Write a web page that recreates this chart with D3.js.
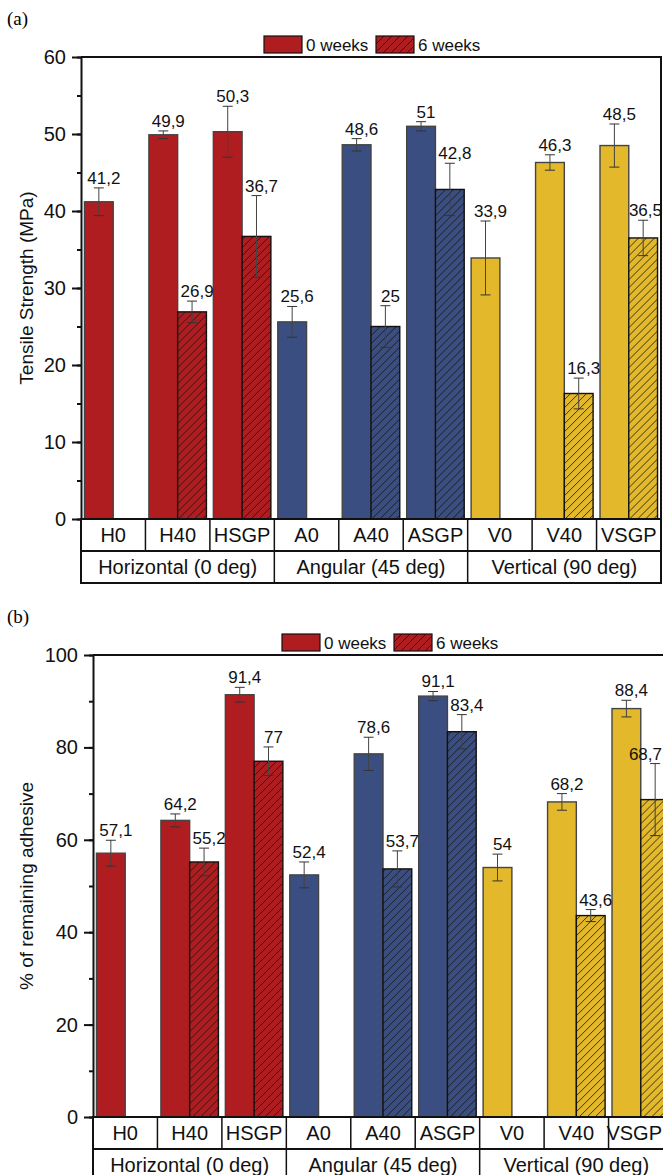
<!DOCTYPE html>
<html>
<head>
<meta charset="utf-8">
<script src="https://cdn.jsdelivr.net/npm/d3@7"></script>
<style>
  body { margin: 0; background: #fff; }
  svg { display: block; font-family: "Liberation Sans", Arial, sans-serif; }
</style>
</head>
<body>
<svg id="chart" width="663" height="1175"></svg>
<script>
// categories and groups
const categories = ["H0", "H40", "HSGP", "A0", "A40", "ASGP", "V0", "V40", "VSGP"];
const groups = ["Horizontal (0 deg)", "Angular (45 deg)", "Vertical (90 deg)"];
const groupColors = ["#b01d20", "#3b4e81", "#e3b82a"];
const seriesNames = ["0 weeks", "6 weeks"];

// (a) tensile strength, MPa
const tensile0 = [41.2, 49.9, 50.3, 25.6, 48.6, 51, 33.9, 46.3, 48.5];
const tensile6 = [null, 26.9, 36.7, null, 25, 42.8, null, 16.3, 36.5];
const tensileErr0 = [1.8, 0.5, 3.3, 2.0, 0.8, 0.6, 4.8, 1.0, 2.8];
const tensileErr6 = [null, 1.4, 5.3, null, 2.7, 3.4, null, 2.0, 2.3];
const tensileTicks = [0, 10, 20, 30, 40, 50, 60];

// (b) remaining adhesive, %
const adhesive0 = [57.1, 64.2, 91.4, 52.4, 78.6, 91.1, 54, 68.2, 88.4];
const adhesive6 = [null, 55.2, 77, null, 53.7, 83.4, null, 43.6, 68.7];
const adhesiveErr0 = [2.8, 1.4, 1.6, 2.8, 3.6, 1.0, 2.9, 1.8, 1.8];
const adhesiveErr6 = [null, 3.0, 3.1, null, 3.9, 3.7, null, 1.3, 7.8];
const adhesiveTicks = [0, 20, 40, 60, 80, 100];

const W = 663;
const svg = d3.select("#chart");

// hatch patterns, one per colour
const defs = svg.append("defs");
groupColors.forEach((c, i) => {
  const p = defs.append("pattern")
    .attr("id", "hatch" + i)
    .attr("patternUnits", "userSpaceOnUse")
    .attr("width", 8).attr("height", 8);
  p.append("rect").attr("width", 8).attr("height", 8).attr("fill", c);
  p.append("path")
    .attr("d", "M0,8 L8,0 M-2,2 L2,-2 M6,10 L10,6")
    .attr("stroke", "#111").attr("stroke-width", 0.8);
});

const fmt = v => String(v).replace(".", ",");

// keep a centred text inside the picture
function keepIn(sel) {
  sel.each(function () {
    const bb = this.getBBox();
    if (bb.x + bb.width > W - 1) {
      d3.select(this).attr("x", +d3.select(this).attr("x") - (bb.x + bb.width - (W - 1)));
    }
  });
}

function drawPanel(opt) {
  const g = svg.append("g");

  g.append("text")
    .attr("x", 7).attr("y", opt.top - 32)
    .style("font-family", "'Liberation Serif', 'Times New Roman', serif")
    .style("font-size", "19px")
    .text(opt.tag);

  const x = d3.scaleBand().domain(categories).range([opt.left, opt.right]);
  const xs = d3.scaleBand().domain(seriesNames).range([0, x.bandwidth()]).paddingInner(0).paddingOuter(0.12);
  const y = d3.scaleLinear().domain([0, opt.max]).range([opt.bottom, opt.top]);

  // y axis
  const minor = d3.range(0, opt.max + 0.001, opt.max / ((opt.ticks.length - 1) * 2));
  g.append("g")
    .attr("transform", `translate(${opt.left},0)`)
    .call(d3.axisLeft(y).tickValues(minor).tickSize(4).tickFormat(""))
    .call(a => a.select(".domain").remove())
    .selectAll("line").attr("stroke", "#111").attr("stroke-width", 2);
  const ya = g.append("g")
    .attr("transform", `translate(${opt.left},0)`)
    .call(d3.axisLeft(y).tickValues(opt.ticks).tickSize(9).tickPadding(6).tickSizeOuter(0));
  ya.select(".domain").attr("stroke", "#111").attr("stroke-width", 2);
  ya.selectAll("line").attr("stroke", "#111").attr("stroke-width", 2);
  ya.selectAll("text").style("font-size", "20px").attr("fill", "#111");

  g.append("text")
    .attr("transform", `translate(33,${(opt.top + opt.bottom) / 2}) rotate(-90)`)
    .attr("text-anchor", "middle")
    .style("font-size", "19px")
    .attr("fill", "#111")
    .text(opt.title);

  // bars
  const rows = categories.map((c, i) => ({
    cat: c, gi: Math.floor(i / 3),
    vals: [
      { s: 0, v: opt.v0[i], e: opt.e0[i] },
      { s: 1, v: opt.v6[i], e: opt.e6[i] }
    ].filter(d => d.v !== null)
  }));

  const cg = g.selectAll(".cat").data(rows).enter().append("g")
    .attr("transform", d => `translate(${x(d.cat)},0)`);

  const bar = cg.selectAll(".b").data(d => d.vals.map(v => Object.assign({ gi: d.gi, cat: d.cat }, v))).enter().append("g");

  bar.append("rect")
    .attr("x", d => xs(seriesNames[d.s]))
    .attr("width", xs.bandwidth())
    .attr("y", d => y(d.v))
    .attr("height", d => y(0) - y(d.v))
    .attr("fill", d => d.s === 0 ? groupColors[d.gi] : `url(#hatch${d.gi})`)
    .attr("stroke", d => d.s === 0 ? "#444" : "#111")
    .attr("stroke-width", 1.4);

  const cx = d => xs(seriesNames[d.s]) + xs.bandwidth() / 2;
  bar.append("line")
    .attr("x1", cx).attr("x2", cx)
    .attr("y1", d => y(d.v + d.e)).attr("y2", d => y(d.v - d.e))
    .attr("stroke", "#444").attr("stroke-width", 1);
  [1, -1].forEach(k => {
    bar.append("line")
      .attr("x1", d => cx(d) - 5).attr("x2", d => cx(d) + 5)
      .attr("y1", d => y(d.v + k * d.e)).attr("y2", d => y(d.v + k * d.e))
      .attr("stroke", "#333").attr("stroke-width", 1);
  });

  // value labels, placed in panel coordinates so they can be kept inside
  g.selectAll(".vl").data(rows.flatMap(r => r.vals.map(v => Object.assign({ cat: r.cat }, v))))
    .enter().append("text")
    .attr("x", d => x(d.cat) + cx(d) + 5)
    .attr("y", d => y(d.v + d.e) - 4)
    .attr("text-anchor", "middle")
    .style("font-size", "17px")
    .attr("fill", "#111")
    .text(d => fmt(d.v))
    .call(keepIn);

  // frame: top and right
  g.append("path")
    .attr("d", `M${opt.left},${opt.top}H${opt.right}V${opt.bottom}`)
    .attr("fill", "none").attr("stroke", "#111").attr("stroke-width", 2);

  // category table
  const rh = 32;
  const tb = g.append("g");
  tb.append("rect")
    .attr("x", opt.left).attr("y", opt.bottom)
    .attr("width", opt.right - opt.left).attr("height", rh * 2)
    .attr("fill", "none").attr("stroke", "#111").attr("stroke-width", 2);
  tb.append("line")
    .attr("x1", opt.left).attr("x2", opt.right)
    .attr("y1", opt.bottom + rh).attr("y2", opt.bottom + rh)
    .attr("stroke", "#111").attr("stroke-width", 2);
  tb.selectAll(".cd").data(categories.slice(1)).enter().append("line")
    .attr("x1", d => x(d)).attr("x2", d => x(d))
    .attr("y1", opt.bottom).attr("y2", (d, i) => (i + 1) % 3 === 0 ? opt.bottom + rh * 2 : opt.bottom + rh)
    .attr("stroke", "#111").attr("stroke-width", 1.5);
  tb.selectAll(".ct").data(categories).enter().append("text")
    .attr("x", d => x(d) + x.bandwidth() / 2)
    .attr("y", opt.bottom + 23)
    .attr("text-anchor", "middle")
    .style("font-size", "20px").attr("fill", "#111")
    .text(d => d)
    .call(keepIn);
  tb.selectAll(".gt").data(groups).enter().append("text")
    .attr("x", (d, i) => x(categories[i * 3]) + x.bandwidth() * 1.5)
    .attr("y", opt.bottom + rh + 23)
    .attr("text-anchor", "middle")
    .style("font-size", "20px").attr("fill", "#111")
    .text(d => d);

  // legend
  const lg = g.append("g").attr("transform", `translate(${opt.legendX},${opt.top - 21})`);
  const items = [{ f: groupColors[0], t: seriesNames[0], dx: 0 }, { f: "url(#hatch0)", t: seriesNames[1], dx: 112 }];
  items.forEach(it => {
    lg.append("rect").attr("x", it.dx).attr("y", 0).attr("width", 38).attr("height", 17)
      .attr("fill", it.f).attr("stroke", "#111").attr("stroke-width", 1.2);
    lg.append("text").attr("x", it.dx + 42).attr("y", 15)
      .style("font-size", "17px").attr("fill", "#111").text(it.t);
  });
}

drawPanel({
  tag: "(a)", top: 57, bottom: 519, left: 81, right: 661, max: 60, ticks: tensileTicks,
  title: "Tensile Strength (MPa)", v0: tensile0, v6: tensile6, e0: tensileErr0, e6: tensileErr6,
  legendX: 264
});
drawPanel({
  tag: "(b)", top: 655, bottom: 1117, left: 93, right: 673, max: 100, ticks: adhesiveTicks,
  title: "% of remaining adhesive", v0: adhesive0, v6: adhesive6, e0: adhesiveErr0, e6: adhesiveErr6,
  legendX: 282
});
</script>
</body>
</html>
